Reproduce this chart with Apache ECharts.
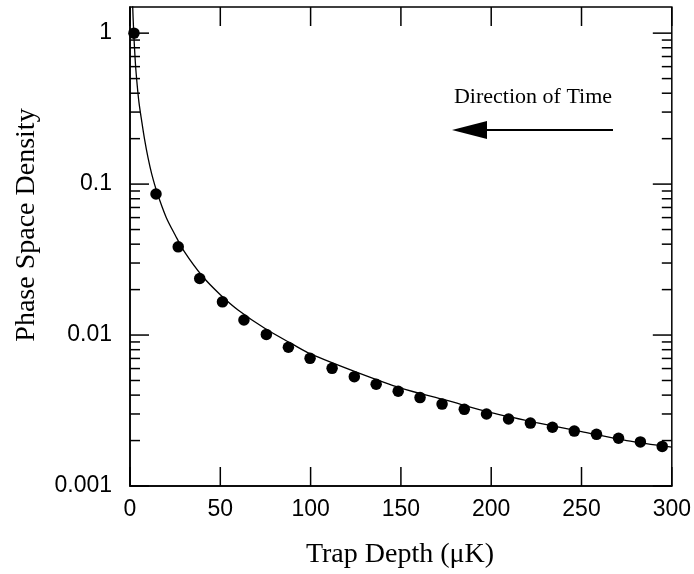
<!DOCTYPE html>
<html>
<head>
<meta charset="utf-8">
<script src="https://cdn.jsdelivr.net/npm/echarts@6/dist/echarts.min.js"></script>
<style>
html,body{margin:0;padding:0;background:#fff;}
#chart{width:694px;height:574px;}
</style>
</head>
<body>
<div id="chart"></div>
<script>
// Measured points (trap depth in µK, phase space density)
var depthPoints = [2.2, 14.4, 26.7, 38.6, 51.2, 63.1, 75.5, 87.7, 99.7, 111.9, 124.2, 136.3, 148.5, 160.6, 172.8, 185.1, 197.4, 209.6, 221.7, 233.9, 246.0, 258.3, 270.5, 282.6, 294.7];
var psdPoints = [1.0, 0.0859, 0.0384, 0.0237, 0.0166, 0.01257, 0.0101, 0.0083, 0.00701, 0.00602, 0.0053, 0.00472, 0.00424, 0.00385, 0.00349, 0.00322, 0.0030, 0.00278, 0.00261, 0.00245, 0.00231, 0.0022, 0.00207, 0.00196, 0.00183];
// Fitted curve
var depthCurve = [1.2, 1.5, 2, 3, 4, 5, 6.4, 8, 10, 12, 15, 20, 25, 30, 40, 50, 60, 75, 90, 100, 125, 150, 175, 200, 225, 250, 275, 300];
var psdCurve = [2.0, 1.49, 1.05, 0.63, 0.45, 0.345, 0.265, 0.20, 0.149, 0.117, 0.088, 0.0604, 0.046, 0.0358, 0.0246, 0.0185, 0.0146, 0.0110, 0.0087, 0.0075, 0.0057, 0.00445, 0.0037, 0.00306, 0.00263, 0.00229, 0.0020, 0.00181];
// Axis ticks
var xTicks = [0, 50, 100, 150, 200, 250, 300];
var yMajorTicks = [0.001, 0.01, 0.1, 1];
var yMinorMultipliers = [2, 3, 4, 5, 6, 7, 8, 9];
var xMin = 0, xMax = 300, yMin = 0.001, yMax = 1.49;

var tickData = [];
xTicks.forEach(function (v) { tickData.push([v, yMin, 0]); });
yMajorTicks.forEach(function (v) { tickData.push([xMin, v, 1]); });
yMajorTicks.forEach(function (d) {
  yMinorMultipliers.forEach(function (m) {
    var v = d * m;
    if (v < yMax) tickData.push([xMin, v, 2]);
  });
});

var chart = echarts.init(document.getElementById('chart'));
var lineStyleTick = { stroke: '#000', lineWidth: 1.5 };

chart.setOption({
  animation: false,
  backgroundColor: '#fff',
  grid: { left: 130, right: 21, top: 7, bottom: 88, show: true, borderColor: '#000', borderWidth: 1.5, backgroundColor: 'transparent' },
  xAxis: {
    type: 'value', min: xMin, max: xMax, interval: 50,
    axisLine: { show: true, lineStyle: { color: '#000', width: 1.5 } },
    axisTick: { show: false },
    splitLine: { show: false },
    axisLabel: { color: '#000', fontFamily: 'Liberation Sans, Arial, sans-serif', fontSize: 23, margin: 12 }
  },
  yAxis: {
    type: 'log', logBase: 10, min: yMin, max: yMax,
    axisLine: { show: true, lineStyle: { color: '#000', width: 1.5 } },
    axisTick: { show: false },
    splitLine: { show: false },
    minorTick: { show: false },
    axisLabel: {
      color: '#000', fontFamily: 'Liberation Sans, Arial, sans-serif', fontSize: 23, margin: 18,
      formatter: function (v) {
        var l = Math.log10(v);
        if (Math.abs(l - Math.round(l)) > 1e-6) return '';
        var r = Math.round(l);
        if (r === 0) return '1';
        return (Math.pow(10, r)).toFixed(-r);
      }
    }
  },
  series: [
    {
      type: 'line', name: 'fit',
      data: depthCurve.map(function (x, i) { return [x, psdCurve[i]]; }),
      smooth: 0.3, showSymbol: false, symbol: 'none', clip: true,
      lineStyle: { color: '#000', width: 1.3 }, z: 2
    },
    {
      type: 'scatter', name: 'data',
      data: depthPoints.map(function (x, i) { return [x, psdPoints[i]]; }),
      symbol: 'circle', symbolSize: 11.5,
      itemStyle: { color: '#000', opacity: 1 }, z: 3
    },
    {
      type: 'custom', name: 'ticks', silent: true, clip: false, z: 4,
      data: tickData,
      encode: { x: 0, y: 1 },
      renderItem: function (params, api) {
        var kind = api.value(2);
        var v0 = api.value(0), v1 = api.value(1);
        if (kind === 0) {
          var b = api.coord([v0, yMin]);
          var t = api.coord([v0, yMax]);
          var L = 19;
          return { type: 'group', children: [
            { type: 'line', shape: { x1: b[0], y1: b[1], x2: b[0], y2: b[1] - L }, style: lineStyleTick },
            { type: 'line', shape: { x1: t[0], y1: t[1], x2: t[0], y2: t[1] + L }, style: lineStyleTick }
          ] };
        } else {
          var l = api.coord([xMin, v1]);
          var r = api.coord([xMax, v1]);
          var L2 = kind === 1 ? 19 : 10;
          return { type: 'group', children: [
            { type: 'line', shape: { x1: l[0], y1: l[1], x2: l[0] + L2, y2: l[1] }, style: lineStyleTick },
            { type: 'line', shape: { x1: r[0], y1: r[1], x2: r[0] - L2, y2: r[1] }, style: lineStyleTick }
          ] };
        }
      }
    }
  ],
  graphic: [
    { type: 'text', x: 27, y: 225, rotation: Math.PI / 2,
      style: { text: 'Phase Space Density', fill: '#000', font: '28px "Liberation Serif", "Times New Roman", serif', textAlign: 'center', textVerticalAlign: 'middle' } },
    { type: 'text', x: 400, y: 555,
      style: { text: 'Trap Depth (\u03bcK)', fill: '#000', font: '28px "Liberation Serif", "Times New Roman", serif', textAlign: 'center', textVerticalAlign: 'middle' } },
    { type: 'text', x: 533, y: 97,
      style: { text: 'Direction of Time', fill: '#000', font: '22px "Liberation Serif", "Times New Roman", serif', textAlign: 'center', textVerticalAlign: 'middle' } },
    { type: 'line', shape: { x1: 613, y1: 130, x2: 485, y2: 130 }, style: { stroke: '#000', lineWidth: 2 } },
    { type: 'polygon', shape: { points: [[452, 130], [487, 121], [487, 139]] }, style: { fill: '#000' } }
  ]
});
</script>
</body>
</html>
